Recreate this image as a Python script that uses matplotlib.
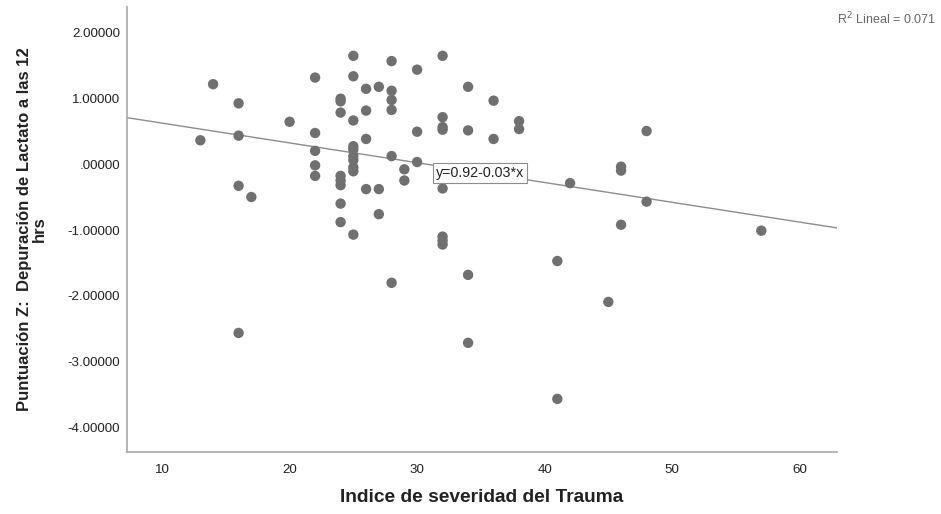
import numpy as np
import matplotlib
matplotlib.use("Agg")
import matplotlib.pyplot as plt

plt.rcParams["font.family"] = ["Liberation Sans", "DejaVu Sans"]

# ISS score vs z-score of lactate clearance at 12 h
iss = [13, 14, 16, 16, 16, 16, 17, 20,
       22, 22, 22, 22, 22,
       24, 24, 24, 24, 24, 24, 24, 24,
       25, 25, 25, 25, 25, 25, 25, 25, 25, 25,
       26, 26, 26, 26,
       27, 27, 27,
       28, 28, 28, 28, 28, 28,
       29, 29, 30, 30, 30,
       32, 32, 32, 32, 32, 32, 32, 32,
       34, 34, 34, 34, 36, 36, 38, 38,
       41, 41, 42, 45, 46, 46, 46, 48, 48, 57]
z_lact = [0.36, 1.21, 0.92, 0.43, -0.33, -2.56, -0.50, 0.64,
          1.31, 0.47, 0.20, -0.02, -0.18,
          0.99, 0.95, 0.78, -0.18, -0.25, -0.32, -0.60, -0.88,
          1.64, 1.33, 0.66, 0.27, 0.22, 0.12, 0.06, -0.05, -0.11, -1.07,
          1.14, 0.81, 0.38, -0.38,
          1.17, -0.38, -0.76,
          1.56, 1.11, 0.97, 0.82, 0.12, -1.80,
          -0.08, -0.25, 1.43, 0.49, 0.03,
          1.64, 0.71, 0.56, 0.52, -0.37, -1.10, -1.16, -1.22,
          1.17, 0.51, -1.68, -2.71, 0.96, 0.38, 0.65, 0.53,
          -1.47, -3.56, -0.29, -2.09, -0.04, -0.10, -0.92, 0.50, -0.57, -1.01]

intercept, slope = 0.92, -0.03
r2 = 0.071
xticks = [10, 20, 30, 40, 50, 60]
yticks = [2, 1, 0, -1, -2, -3, -4]
ytick_labels = ["2.00000", "1.00000", ".00000", "-1.00000", "-2.00000", "-3.00000", "-4.00000"]

fig = plt.figure(figsize=(9.41, 5.14), dpi=100)
ax = fig.add_axes([0.135, 0.1212, 0.754, 0.8652])
ax.set_xlim(7.25, 62.9)
ax.set_ylim(-4.36, 2.38)

ax.scatter(iss, z_lact, s=56, color="#707070", edgecolors="none", zorder=3)

xl = np.array(ax.get_xlim())
ax.plot(xl, intercept + slope * xl, color="#8c8c8c", lw=1.0, zorder=2)
ax.text(31.45, -0.14, f"y={intercept:.2f}{slope:+.2f}*x", fontsize=10.3,
        va="center", ha="left", color="#222222", zorder=4,
        bbox=dict(boxstyle="square,pad=0.2", fc="white", ec="#8c8c8c", lw=0.8))

for s in ["top", "right"]:
    ax.spines[s].set_visible(False)
for s in ["left", "bottom"]:
    ax.spines[s].set_color("#a8a8a8")
    ax.spines[s].set_linewidth(1.2)

ax.set_xticks(xticks)
ax.set_yticks(yticks)
ax.set_yticklabels(ytick_labels)
ax.tick_params(length=0, labelsize=9.6, labelcolor="#222222")
ax.tick_params(axis="y", pad=5)
ax.tick_params(axis="x", pad=9)

ax.set_xlabel("Indice de severidad del Trauma", fontsize=13.8, fontweight="bold",
              color="#222222", labelpad=9)
ax.set_ylabel("Puntuación Z:  Depuración de Lactato a las 12\nhrs", fontsize=12,
              fontweight="bold", color="#222222", labelpad=15, linespacing=0.95)

fig.text(0.995, 0.963, f"R$^2$ Lineal = {r2:.3f}", ha="right", va="center",
         fontsize=9, color="#666666")

fig.savefig("out.png", dpi=100)
